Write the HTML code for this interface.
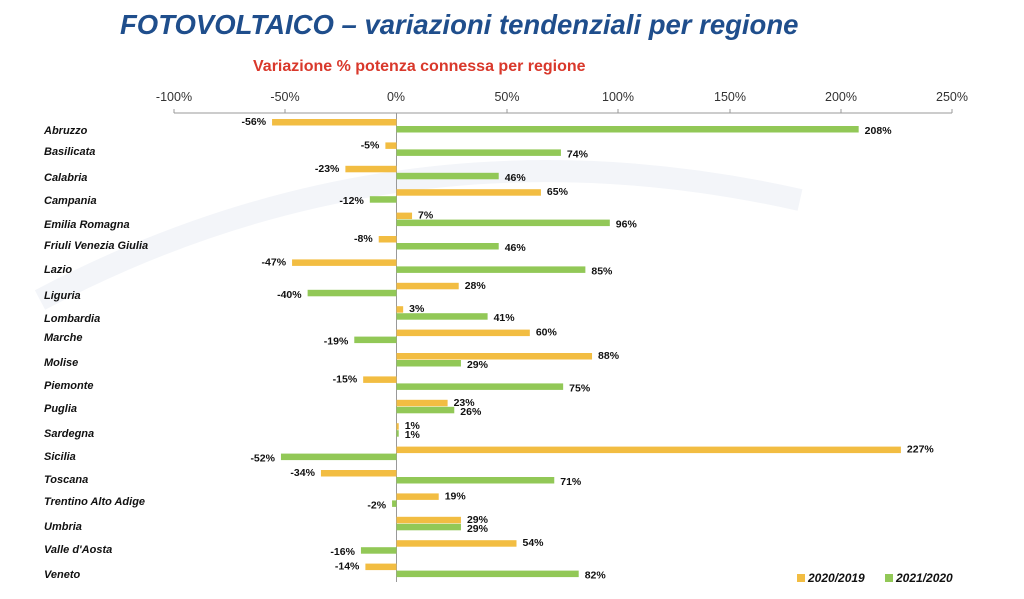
<!DOCTYPE html>
<html><head><meta charset="utf-8"><style>
body{margin:0;background:#fff;width:1024px;height:599px;overflow:hidden}
svg{display:block}
</style></head><body>
<svg width="1024" height="599" xmlns="http://www.w3.org/2000/svg" font-family="Liberation Sans, sans-serif">
<path d="M40 300 Q400 110 800 200" fill="none" stroke="#f3f5f9" stroke-width="22"/>
<text x="120" y="34" font-size="27.5" font-weight="bold" font-style="italic" fill="#1f4e8c">FOTOVOLTAICO – variazioni tendenziali per regione</text>
<text x="253" y="71" font-size="16" font-weight="bold" fill="#d9382b">Variazione % potenza connessa per regione</text>
<g font-size="12.5" fill="#333" text-anchor="middle">
<text x="174" y="101">-100%</text><text x="285" y="101">-50%</text><text x="396" y="101">0%</text>
<text x="507" y="101">50%</text><text x="618" y="101">100%</text><text x="730" y="101">150%</text>
<text x="841" y="101">200%</text><text x="952" y="101">250%</text>
</g>
<g stroke="#999" stroke-width="1">
<line x1="174" y1="113" x2="952" y2="113"/>
<line x1="174" y1="109" x2="174" y2="113"/><line x1="285" y1="109" x2="285" y2="113"/>
<line x1="507" y1="109" x2="507" y2="113"/><line x1="618" y1="109" x2="618" y2="113"/>
<line x1="730" y1="109" x2="730" y2="113"/><line x1="841" y1="109" x2="841" y2="113"/>
<line x1="952" y1="109" x2="952" y2="113"/>
<line x1="396.5" y1="113" x2="396.5" y2="582"/>
</g>
<g id="c"></g>
<rect x="797" y="574" width="8" height="8" fill="#f2bd42"/>
<text x="808" y="582" font-size="12" font-weight="bold" font-style="italic" fill="#111">2020/2019</text>
<rect x="885" y="574" width="8" height="8" fill="#92c857"/>
<text x="896" y="582" font-size="12" font-weight="bold" font-style="italic" fill="#111">2021/2020</text>
</svg>
<script>
var d=[["Abruzzo",130,-56,208],["Basilicata",151,-5,74],["Calabria",177,-23,46],["Campania",200,65,-12],["Emilia Romagna",224,7,96],["Friuli Venezia Giulia",245,-8,46],["Lazio",269,-47,85],["Liguria",295,28,-40],["Lombardia",318,3,41],["Marche",337,60,-19],["Molise",362,88,29],["Piemonte",385,-15,75],["Puglia",408,23,26],["Sardegna",433,1,1],["Sicilia",456,227,-52],["Toscana",479,-34,71],["Trentino Alto Adige",501,19,-2],["Umbria",526,29,29],["Valle d'Aosta",549,54,-16],["Veneto",574,-14,82]];
var s="",z=396.5,k=2.222;
d.forEach(function(r,i){
var yc=125+i*23.4;
s+='<text x="44" y="'+(r[1]+4)+'" font-size="11" font-weight="bold" font-style="italic" fill="#111">'+r[0]+'</text>';
[[r[2],"#f2bd42",yc-3],[r[3],"#92c857",yc+4]].forEach(function(b){
var v=b[0],x=v<0?z+v*k:z,w=Math.abs(v)*k;
s+='<rect x="'+x+'" y="'+(b[2]-3)+'" width="'+Math.max(w,1.5)+'" height="6.5" fill="'+b[1]+'"/>';
var tx=v<0?z+v*k-6:z+v*k+6;
s+='<text x="'+tx+'" y="'+(b[2]+4+(b[1]=="#92c857"?1:-1))+'" font-size="10.5" font-weight="bold" fill="#111" text-anchor="'+(v<0?"end":"start")+'">'+v+'%</text>';
});});
document.getElementById("c").innerHTML=s;
</script>
</body></html>
